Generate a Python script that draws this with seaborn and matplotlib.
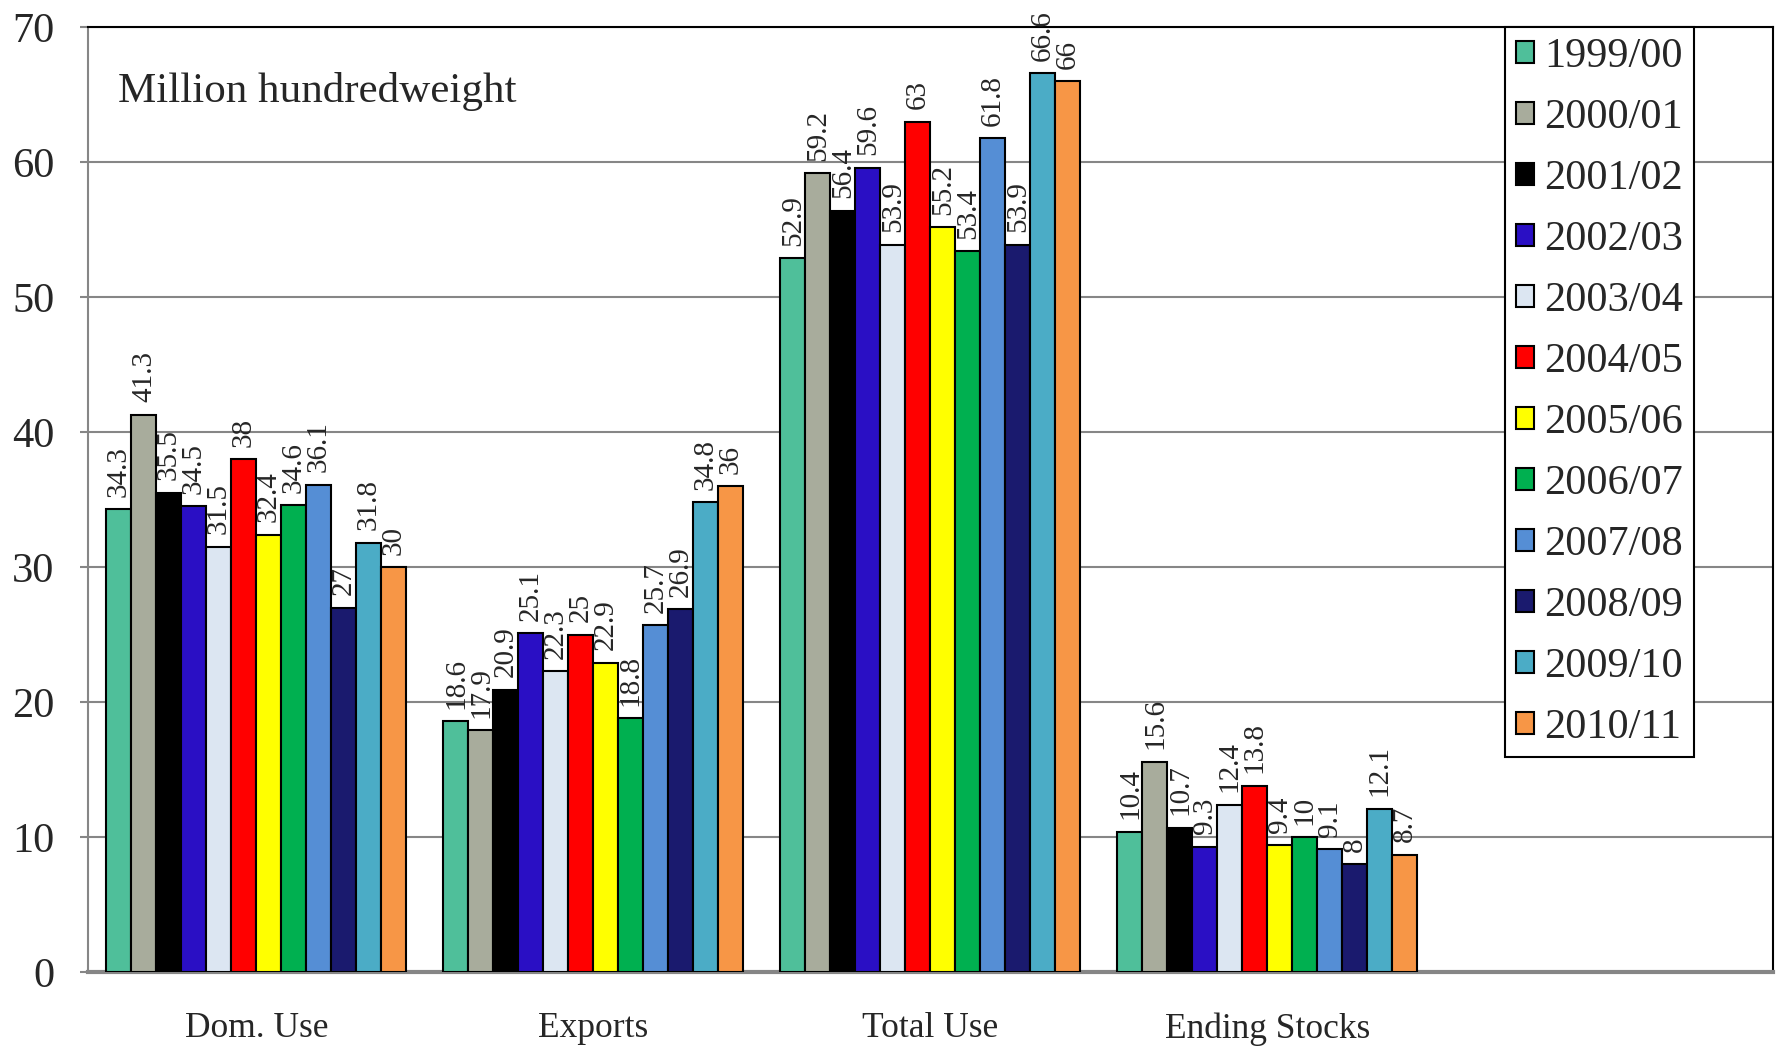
import matplotlib
matplotlib.use("Agg")
import matplotlib.pyplot as plt
import seaborn as sns
import pandas as pd
import numpy as np

# Dados
categorias = ["Dom. Use", "Exports", "Total Use", "Ending Stocks"]
anos = ["1999/00", "2000/01", "2001/02", "2002/03", "2003/04", "2004/05",
        "2005/06", "2006/07", "2007/08", "2008/09", "2009/10", "2010/11"]
dom_use = [34.3, 41.3, 35.5, 34.5, 31.5, 38, 32.4, 34.6, 36.1, 27, 31.8, 30]
exports = [18.6, 17.9, 20.9, 25.1, 22.3, 25, 22.9, 18.8, 25.7, 26.9, 34.8, 36]
total_use = [52.9, 59.2, 56.4, 59.6, 53.9, 63, 55.2, 53.4, 61.8, 53.9, 66.6, 66]
ending_stocks = [10.4, 15.6, 10.7, 9.3, 12.4, 13.8, 9.4, 10, 9.1, 8, 12.1, 8.7]
cores = ["#4FBF9A", "#A8AC9C", "#000000", "#2A0FC4", "#DCE6F2", "#FF0000",
         "#FFFF00", "#00B050", "#558ED5", "#1A1A6E", "#4BACC6", "#F79646"]

series = [dom_use, exports, total_use, ending_stocks]
linhas = []
for cat, vals in zip(categorias, series):
    for ano, v in zip(anos, vals):
        linhas.append({"categoria": cat, "ano": ano, "valor": v})
df = pd.DataFrame(linhas)

sns.set_style("white")
plt.rcParams['font.family'] = ['Liberation Serif', 'DejaVu Serif']

fig = plt.figure(figsize=(17.77, 10.52), dpi=100)
ax = fig.add_axes([0.0495, 0.076, 0.9482, 0.898])

sns.barplot(data=df, x="categoria", y="valor", hue="ano", order=categorias,
            hue_order=anos, palette=cores, saturation=1, width=0.89,
            edgecolor="black", linewidth=1.5, ax=ax, zorder=3)

# rótulos das barras
for cont, ano in zip(ax.containers, anos):
    vals = df[df["ano"] == ano]["valor"].tolist()
    ax.bar_label(cont, labels=[f"{v:g}" for v in vals], rotation=90,
                 padding=9, fontsize=21)

ax.set_xlim(-0.5, 4.5)
ax.set_ylim(0, 70)
ax.set_yticks(range(0, 71, 10))
ax.yaxis.grid(True, color="#868686", linewidth=1.5, zorder=0)
ax.set_axisbelow(True)

ax.set_xticks(range(4))
ax.set_xticklabels(categorias, fontsize=25.5)
ax.set_xticks(np.arange(-0.5, 4.6, 1), minor=True)
ax.tick_params(axis="x", which="major", length=0, pad=29)
ax.tick_params(axis="x", which="minor", length=8, width=1.5, color="#868686",
               direction="out")
ax.tick_params(axis="y", length=6, width=1.5, color="#868686", pad=18,
               labelsize=30.5, direction="out", left=True)
ax.set_xlabel("")
ax.set_ylabel("")

for lado in ["top", "right"]:
    ax.spines[lado].set_color("black")
    ax.spines[lado].set_linewidth(1.5)
ax.spines["left"].set_color("#868686")
ax.spines["left"].set_linewidth(1.5)
ax.spines["bottom"].set_color("#868686")
ax.spines["bottom"].set_linewidth(3)

ax.text(0.018, 0.932, "Million hundredweight", transform=ax.transAxes,
        fontsize=31, va="center", ha="left")

sns.move_legend(ax, "upper right", bbox_to_anchor=(0.953, 1.0), title=None,
                fontsize=30.5, frameon=True, fancybox=False, edgecolor="black",
                handlelength=0.42, handleheight=0.42, handletextpad=0.25,
                labelspacing=0.53, borderpad=0.25, borderaxespad=0)
leg = ax.get_legend()
leg.get_frame().set_linewidth(1.5)
leg.get_frame().set_alpha(1)

fig.savefig("out.png", dpi=100)
